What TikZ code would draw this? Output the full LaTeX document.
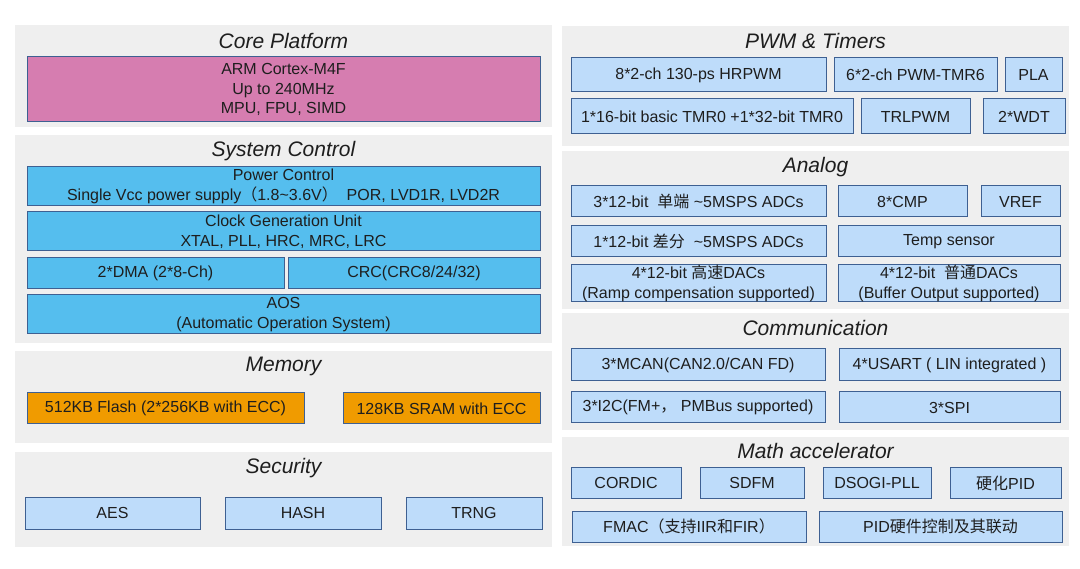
\documentclass[tikz,border=0pt]{standalone}
\usepackage{fontspec}
\setmainfont{Liberation Sans}
\newfontfamily\zhfont{Noto Sans CJK SC}
\newcommand{\zh}[1]{{\zhfont #1}}
\usetikzlibrary{positioning,fit}

\definecolor{panelgray}{RGB}{239,239,239}
\definecolor{coremag}{RGB}{214,125,176}
\definecolor{sysblue}{RGB}{85,190,238}
\definecolor{perblue}{RGB}{190,220,250}
\definecolor{memorange}{RGB}{240,155,0}
\definecolor{edge}{RGB}{62,96,146}
\definecolor{txt}{RGB}{30,30,30}

\tikzset{
  panel/.style = { fill = panelgray, draw = none, inner sep = 0pt },
  ptitle/.style = { font = \fontsize{21}{24}\selectfont\itshape, text = txt },
  box/.style = { draw = edge, line width = 1pt, inner sep = 0pt, text = txt,
                 align = center, font = \fontsize{16}{19.5}\selectfont },
  sz/.style 2 args = { minimum width = #1, minimum height = #2 },
  core/.style = { box, fill = coremag },
  sys/.style = { box, fill = sysblue },
  mem/.style = { box, fill = memorange },
  per/.style = { box, fill = perblue }
}

\begin{document}
\begin{tikzpicture}[x = 1pt, y = -1pt]
  \useasboundingbox[fill = white] (0,0) rectangle (1080,569);

  % left column
  \node[panel, fit = {(15,25) (552,127)}] (core) {};
  \node[panel, fit = {(15,135) (552,343)}] (sysctl) {};
  \node[panel, fit = {(15,351) (552,443)}] (memory) {};
  \node[panel, fit = {(15,452) (552,547)}] (security) {};

  % right column
  \node[panel, fit = {(562,26) (1069,146)}] (pwm) {};
  \node[panel, fit = {(562,151) (1069,309)}] (analog) {};
  \node[panel, fit = {(562,313) (1069,430)}] (comm) {};
  \node[panel, fit = {(562,437) (1069,546)}] (math) {};

  % titles
  \node[ptitle] (t-core) at ([yshift = -16pt] core.north) {Core Platform};
  \node[ptitle] (t-sysctl) at ([yshift = -16pt] sysctl.north) {System Control};
  \node[ptitle] (t-memory) at ([yshift = -16pt] memory.north) {Memory};
  \node[ptitle] (t-security) at ([yshift = -16pt] security.north) {Security};
  \node[ptitle] (t-pwm) at ([yshift = -15pt] pwm.north) {PWM \& Timers};
  \node[ptitle] (t-analog) at ([yshift = -16pt] analog.north) {Analog};
  \node[ptitle] (t-comm) at ([yshift = -15pt] comm.north) {Communication};
  \node[ptitle] (t-math) at ([yshift = -14pt] math.north) {Math accelerator};

  % core platform
  \node[core, sz = {513}{65}] (cpu) at (283.5,89.5) {ARM Cortex-M4F\\Up to 240MHz\\MPU, FPU, SIMD};

  % system control
  \node[sys, sz = {513}{39}] (power) at (283.5,186.5) {Power Control\\Single Vcc power supply\zh{（}1.8\textasciitilde3.6V\zh{）}\ \ POR, LVD1R, LVD2R};
  \node[sys, sz = {513}{39}] (clock) at (283.5,231.5) {Clock Generation Unit\\XTAL, PLL, HRC, MRC, LRC};
  \node[sys, sz = {257}{31}] (dma) at (155.5,273.5) {2*DMA (2*8-Ch)};
  \node[sys, sz = {252}{31}] (crc) at (414,273.5) {CRC(CRC8/24/32)};
  \node[sys, sz = {513}{39}] (aos) at (283.5,314.5) {AOS\\(Automatic Operation System)};

  % memory
  \node[mem, sz = {277}{31}] (flash) at (165.5,408.5) {512KB Flash (2*256KB with ECC)};
  \node[mem, sz = {197}{31}] (sram) at (441.5,408.5) {128KB SRAM with ECC};

  % security
  \node[per, sz = {175}{32}] (aes) at (112.5,513) {AES};
  \node[per, sz = {156}{32}] (hash) at (303,513) {HASH};
  \node[per, sz = {136}{32}] (trng) at (474,513) {TRNG};

  % pwm & timers
  \node[per, sz = {255}{34}] (hrpwm) at (698.5,75) {8*2-ch 130-ps HRPWM};
  \node[per, sz = {163}{34}] (tmr6) at (915.5,75) {6*2-ch PWM-TMR6};
  \node[per, sz = {57}{34}] (pla) at (1033.5,75) {PLA};
  \node[per, sz = {282}{35}] (tmr0) at (712,116.5) {1*16-bit basic TMR0 +1*32-bit TMR0};
  \node[per, sz = {109}{35}] (trlpwm) at (915.5,116.5) {TRLPWM};
  \node[per, sz = {82}{35}] (wdt) at (1024,116.5) {2*WDT};

  % analog
  \node[per, sz = {255}{31}] (adc-se) at (698.5,201.5) {3*12-bit\ \ \zh{单端} \textasciitilde5MSPS ADCs};
  \node[per, sz = {129}{31}] (cmp) at (902.5,201.5) {8*CMP};
  \node[per, sz = {79}{31}] (vref) at (1020.5,201.5) {VREF};
  \node[per, sz = {255}{31}] (adc-diff) at (698.5,241.5) {1*12-bit \zh{差分}\ \ \textasciitilde5MSPS ADCs};
  \node[per, sz = {222}{31}] (temp) at (949,241.5) {Temp sensor};
  \node[per, sz = {255}{37}] (dac-hs) at (698.5,283.5) {4*12-bit \zh{高速}DACs\\(Ramp compensation supported)};
  \node[per, sz = {222}{37}] (dac-std) at (949,283.5) {4*12-bit\ \ \zh{普通}DACs\\(Buffer Output supported)};

  % communication
  \node[per, sz = {254}{32}] (mcan) at (698,365) {3*MCAN(CAN2.0/CAN FD)};
  \node[per, sz = {221}{32}] (usart) at (949.5,365) {4*USART ( LIN integrated )};
  \node[per, sz = {254}{31}] (i2c) at (698,407.5) {3*I2C(FM+\zh{，}\ PMBus supported)};
  \node[per, sz = {221}{31}] (spi) at (949.5,407.5) {3*SPI};

  % math accelerator
  \node[per, sz = {110}{30}] (cordic) at (626,483) {CORDIC};
  \node[per, sz = {104}{30}] (sdfm) at (752,483) {SDFM};
  \node[per, sz = {108}{30}] (dsogi) at (877,483) {DSOGI-PLL};
  \node[per, sz = {111}{30}] (hwpid) at (1005.5,483) {\zh{硬化}PID};
  \node[per, sz = {234}{31}] (fmac) at (689,526.5) {FMAC\zh{（支持}IIR\zh{和}FIR\zh{）}};
  \node[per, sz = {243}{31}] (pidctl) at (940.5,526.5) {PID\zh{硬件控制及其联动}};
\end{tikzpicture}
\end{document}
